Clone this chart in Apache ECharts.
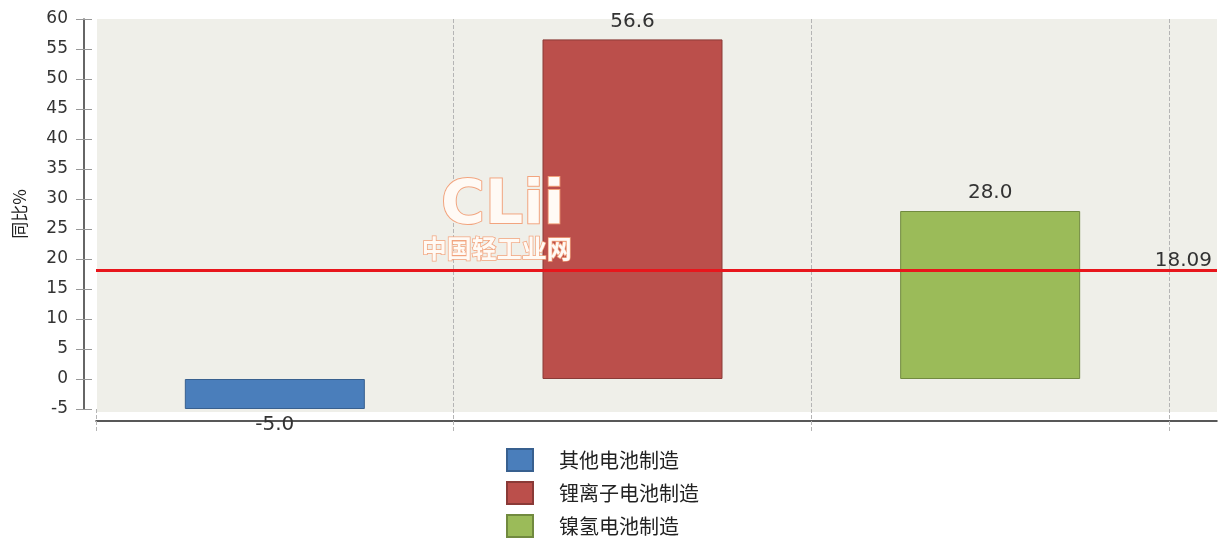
<!DOCTYPE html>
<html>
<head>
<meta charset="utf-8">
<script src="https://cdn.jsdelivr.net/npm/echarts@6/dist/echarts.min.js"></script>
<style>html,body{margin:0;padding:0;background:#fff;}#c{width:1226px;height:540px;}</style>
</head>
<body>
<div id="c"></div>
<script>
const categories = ['其他电池制造', '锂离子电池制造', '镍氢电池制造'];
const values = [-5.0, 56.6, 28.0];
const average = 18.09;
const yTicks = { min: -5, max: 60, interval: 5 };
const colors = ['#4a7ebb', '#bb4f4b', '#9bbb59'];
const borders = ['#38608f', '#8a3a37', '#718a3f'];

const chart = echarts.init(document.getElementById('c'), null, { renderer: 'canvas' });
const numFont = 'DejaVu Sans';
const cjkFont = 'Noto Sans CJK SC';

const barSeries = categories.map((name, i) => ({
  name: name,
  type: 'bar',
  xAxisIndex: 2,
  yAxisIndex: 2,
  stack: 'all',
  barWidth: 180,
  data: categories.map((c, j) => (j === i ? values[i] : '-')),
  itemStyle: { color: colors[i], borderColor: borders[i], borderWidth: 1 },
  label: {
    show: true,
    position: values[i] < 0 ? 'bottom' : 'top',
    distance: values[i] < 0 ? 6 : 8,
    fontFamily: numFont,
    fontSize: 20,
    color: '#333',
    formatter: p => Number(p.value).toFixed(1)
  },
  z: 3
}));

chart.setOption({
  animation: false,
  backgroundColor: '#ffffff',
  grid: [
    { left: 97, right: 9, top: 19, height: 393, show: true, backgroundColor: '#efefe9', borderWidth: 0, z: -5 },
    { left: 96, right: 9, top: 19, height: 390, show: false },
    { left: 96, right: 57, top: 19, height: 390, show: false }
  ],
  xAxis: [
    { gridIndex: 0, type: 'value', show: false, min: 0, max: 1 },
    { gridIndex: 1, type: 'value', min: 0, max: 1, offset: 12, position: 'bottom',
      axisLine: { show: true, onZero: false, lineStyle: { color: '#222', width: 1.5 } },
      axisTick: { show: false }, axisLabel: { show: false }, splitLine: { show: false } },
    { gridIndex: 2, type: 'category', data: categories, boundaryGap: true, position: 'bottom',
      axisLine: { show: false, onZero: false },
      axisTick: { show: true, length: 23, lineStyle: { color: '#b5b5b5', type: 'dashed', width: 1 } },
      axisLabel: { show: false },
      splitLine: { show: true, interval: (idx) => idx > 0, lineStyle: { color: '#b5b5b5', type: 'dashed', width: 1 } } }
  ],
  yAxis: [
    { gridIndex: 0, type: 'value', show: false, min: 0, max: 1 },
    { gridIndex: 1, type: 'value', show: false, min: yTicks.min, max: yTicks.max },
    { gridIndex: 2, type: 'value', min: yTicks.min, max: yTicks.max, interval: yTicks.interval,
      position: 'left', offset: 12,
      name: '同比%', nameLocation: 'middle', nameRotate: 90, nameGap: 56,
      nameTextStyle: { fontFamily: cjkFont, fontSize: 17, color: '#222' },
      axisLine: { show: true, onZero: false, lineStyle: { color: '#333', width: 1.5 } },
      axisTick: { show: true, length: 8, lineStyle: { color: '#999' } },
      axisLabel: { fontFamily: numFont, fontSize: 17, color: '#333', margin: 16 },
      splitLine: { show: false } },
    { gridIndex: 2, type: 'value', min: yTicks.min, max: yTicks.max, interval: yTicks.interval,
      position: 'left', offset: 12,
      axisLine: { show: false, onZero: false },
      axisTick: { show: true, inside: true, length: 8, lineStyle: { color: '#999' } },
      axisLabel: { show: false }, splitLine: { show: false } }
  ],
  legend: {
    orient: 'vertical',
    left: 506,
    top: 448,
    height: 120,
    padding: 0,
    itemWidth: 26,
    itemHeight: 22,
    itemGap: 9,
    icon: 'rect',
    data: categories,
    textStyle: { fontFamily: cjkFont, fontSize: 20, color: '#222', padding: [0, 0, 0, 21] }
  },
  graphic: [
    { type: 'text', left: 440, top: 176, z: 10,
      style: { text: 'CLii', font: 'bold 60px "DejaVu Sans"', fill: '#fffaf5', stroke: '#f2a47e', lineWidth: 2 } },
    { type: 'text', left: 421, top: 235, z: 10,
      style: { text: '中国轻工业网', font: 'bold 25px "Noto Sans CJK SC"', fill: '#fffaf5', stroke: '#f2a47e', lineWidth: 1.5 } }
  ],
  series: [
    ...barSeries,
    {
      name: 'avg',
      type: 'line',
      xAxisIndex: 1,
      yAxisIndex: 1,
      data: [],
      z: 4,
      markLine: {
        silent: true,
        symbol: 'none',
        data: [{ yAxis: average }],
        lineStyle: { color: '#e8161c', width: 3, type: 'solid' },
        label: { show: true, position: 'insideEndTop', distance: [5, 0], formatter: String(average),
          fontFamily: numFont, fontSize: 20, color: '#333' }
      }
    }
  ]
});
</script>
</body>
</html>
